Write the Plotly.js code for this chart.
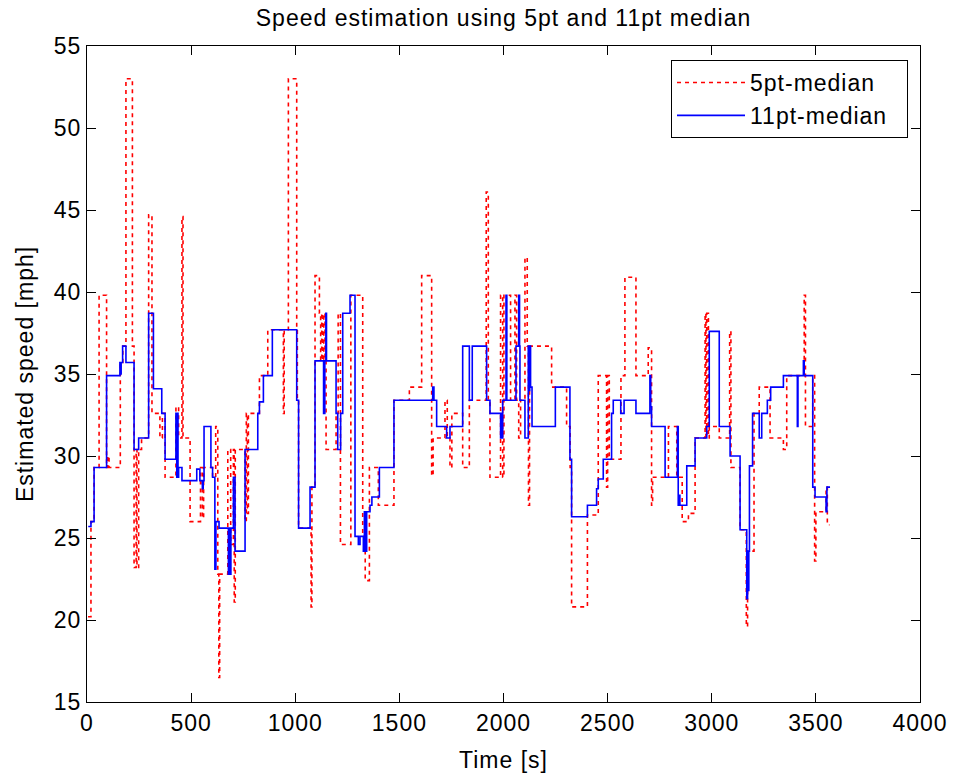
<!DOCTYPE html>
<html>
<head>
<meta charset="utf-8">
<script src="https://cdn.plot.ly/plotly-3.0.1.min.js"></script>
<style>
  html, body { margin: 0; padding: 0; background: #ffffff; }
  #chart { width: 954px; height: 780px; }
  text { letter-spacing: 1px; }
</style>
</head>
<body>
<div id="chart"></div>
<script>
// ---- Data ----
const chartTitle = "Speed estimation using 5pt and 11pt median";
const xTitle = "Time [s]";
const yTitle = "Estimated speed [mph]";
const seriesNames = ["5pt-median", "11pt-median"];

const xTicks = [0, 500, 1000, 1500, 2000, 2500, 3000, 3500, 4000];
const yTicks = [15, 20, 25, 30, 35, 40, 45, 50, 55];

// 5pt-median: step start times [s] and speeds [mph]
const t5 = [5, 19, 34, 58, 94, 100, 106, 160, 172, 187, 218, 226, 236, 240, 248, 262, 296, 312, 350, 362,
  375, 427, 440, 456, 461, 495, 545, 554, 560, 603, 618, 628, 633, 637, 676, 690, 703, 707, 712, 759,
  765, 770, 775, 828, 868, 943, 947, 967, 1007, 1010, 1016, 1076, 1080, 1095, 1116, 1122, 1127, 1132, 1137, 1143,
  1148, 1196, 1206, 1217, 1267, 1324, 1336, 1356, 1399, 1474, 1548, 1607, 1655, 1662, 1719, 1730, 1743, 1752, 1804, 1836,
  1917, 1927, 1935, 1986, 1996, 2002, 2034, 2055, 2063, 2073, 2082, 2103, 2114, 2120, 2125, 2231, 2303, 2320, 2327, 2403,
  2455, 2495, 2500, 2508, 2564, 2583, 2636, 2695, 2711, 2716, 2792, 2832, 2858, 2888, 2920, 2968, 2972, 2976, 2984, 2988,
  3036, 3086, 3092, 3136, 3166, 3172, 3203, 3228, 3280, 3344, 3360, 3444, 3450, 3485, 3494, 3500, 3549, 3555, 3565];
const v5 = [20.2, 26.0, 29.3, 39.8, 29.3, 30.0, 29.3, 35.7, 36.7, 53.0, 36.7, 23.2, 30.4, 23.2, 30.4, 31.1, 44.7, 32.6, 31.1, 32.6,
  28.7, 33.0, 31.1, 44.6, 31.1, 26.0, 29.3, 26.2, 29.3, 28.7, 31.8, 22.8, 16.5, 22.8, 30.4, 24.6, 30.4, 21.1, 30.4, 26.0,
  32.6, 26.5, 32.6, 34.9, 37.7, 32.6, 37.7, 53.0, 37.7, 33.4, 25.6, 20.8, 28.1, 41.0, 38.7, 35.8, 38.7, 35.8, 38.7, 35.8,
  30.4, 32.6, 38.7, 24.6, 39.8, 25.1, 22.4, 29.3, 27.0, 33.4, 34.2, 41.0, 28.8, 31.1, 33.4, 31.1, 29.3, 32.6, 29.3, 33.4,
  46.1, 33.4, 28.7, 39.8, 28.7, 39.8, 33.4, 39.8, 33.4, 31.1, 33.4, 42.1, 36.7, 27.0, 36.7, 34.2, 31.8, 29.3, 20.8, 26.4,
  34.9, 28.1, 34.9, 29.8, 34.9, 40.9, 34.9, 36.6, 27.0, 28.7, 31.8, 28.7, 26.0, 26.5, 31.1, 38.7, 31.1, 38.7, 31.1, 31.8,
  31.1, 37.6, 29.3, 25.5, 19.6, 24.2, 32.6, 34.2, 31.1, 30.4, 34.9, 39.8, 31.8, 34.9, 23.6, 26.6, 28.1, 25.8, 25.8];

// 11pt-median: step start times [s] and speeds [mph]
const t11 = [6, 19, 34, 94, 158, 161, 164, 171, 187, 226, 248, 296, 319, 359, 375, 427, 431, 434, 437, 440,
  456, 527, 542, 554, 558, 562, 595, 603, 614, 619, 634, 679, 683, 687, 691, 703, 711, 759, 820, 828,
  847, 890, 1007, 1016, 1071, 1095, 1136, 1142, 1147, 1150, 1196, 1204, 1218, 1228, 1263, 1287, 1303, 1311, 1327, 1332,
  1336, 1343, 1359, 1368, 1404, 1474, 1660, 1666, 1679, 1727, 1743, 1804, 1836, 1850, 1919, 1935, 1986, 1990, 1993, 1996,
  2012, 2016, 2060, 2073, 2077, 2079, 2103, 2119, 2123, 2126, 2130, 2137, 2249, 2319, 2327, 2403, 2447, 2455, 2479, 2519,
  2527, 2563, 2579, 2636, 2703, 2707, 2711, 2776, 2835, 2839, 2843, 2847, 2880, 2920, 2976, 2988, 3036, 3088, 3136, 3168,
  3172, 3175, 3178, 3181, 3196, 3228, 3240, 3267, 3283, 3344, 3411, 3414, 3440, 3444, 3485, 3496, 3549, 3553, 3568];
const v11 = [25.7, 26.0, 29.3, 34.9, 35.7, 35.0, 35.7, 36.7, 35.7, 30.4, 31.1, 38.7, 34.1, 32.6, 29.8, 32.6, 28.7, 32.6, 28.7, 29.3,
  28.5, 29.2, 28.5, 28.0, 28.5, 31.8, 29.3, 28.7, 23.1, 26.0, 25.6, 22.8, 25.6, 22.8, 25.6, 28.7, 24.2, 30.4, 32.6, 33.3,
  34.9, 37.7, 33.4, 25.6, 28.1, 35.8, 32.6, 35.8, 38.7, 35.8, 32.6, 30.4, 32.6, 38.7, 39.8, 25.1, 24.6, 25.1, 24.2, 26.6,
  24.2, 26.6, 27.0, 27.5, 29.3, 33.4, 34.2, 33.4, 31.8, 31.1, 31.8, 36.7, 33.4, 36.7, 33.4, 32.6, 31.1, 32.6, 31.1, 33.4,
  39.8, 33.4, 36.7, 39.8, 36.7, 33.4, 31.1, 36.7, 34.0, 36.7, 34.2, 31.8, 34.2, 29.8, 26.3, 27.0, 28.0, 28.6, 29.8, 32.6,
  33.4, 32.6, 33.4, 32.6, 34.9, 33.0, 31.8, 28.7, 31.8, 27.0, 27.6, 27.0, 29.4, 31.1, 31.8, 37.6, 31.8, 30.0, 25.5, 21.3,
  24.2, 21.8, 24.2, 29.4, 32.6, 31.1, 32.6, 33.4, 34.2, 34.9, 31.8, 34.9, 35.8, 34.9, 28.1, 27.5, 26.6, 28.1, 28.1];

// ---- Chart ----
const FONT = "Liberation Sans, Arial, Helvetica, sans-serif";
const PAD = "\u00a0\u00a0"; // right padding inside the legend frame

const traces = [
  {
    x: t5, y: v5, name: seriesNames[0] + PAD, type: "scatter", mode: "lines",
    line: { shape: "hv", color: "#ff0000", width: 1.6, dash: "4px,4px" }
  },
  {
    x: t11, y: v11, name: seriesNames[1] + PAD, type: "scatter", mode: "lines",
    line: { shape: "hv", color: "#0000ff", width: 1.6 }
  }
];

const axisCommon = {
  showline: true, linecolor: "#000000", linewidth: 1, mirror: "ticks",
  ticks: "inside", ticklen: 9, tickwidth: 1, tickcolor: "#000000",
  showgrid: false, zeroline: false,
  tickfont: { family: FONT, size: 23, color: "#000000" }
};

const layout = {
  width: 954, height: 780,
  margin: { l: 87, r: 34, t: 46, b: 78, pad: 0 },
  paper_bgcolor: "#ffffff", plot_bgcolor: "#ffffff",
  font: { family: FONT, color: "#000000" },
  title: {
    text: chartTitle, font: { family: FONT, size: 23, color: "#000000" },
    x: 0.5, xref: "paper", xanchor: "center",
    y: 1 - 18 / 780, yref: "container", yanchor: "middle"
  },
  xaxis: Object.assign({}, axisCommon, {
    range: [0, 4000], tickmode: "array", tickvals: xTicks, ticktext: xTicks.map(String),
    title: { text: xTitle, font: { family: FONT, size: 23, color: "#000000" }, standoff: 17 }
  }),
  yaxis: Object.assign({}, axisCommon, {
    range: [15, 55], tickmode: "array", tickvals: yTicks, ticktext: yTicks.map(String),
    title: { text: yTitle, font: { family: FONT, size: 23, color: "#000000" }, standoff: 13 }
  }),
  showlegend: true,
  legend: {
    x: (908 - 87) / 833, xanchor: "right", xref: "paper",
    y: (702 - 59) / 657, yanchor: "top", yref: "paper",
    bgcolor: "#ffffff", bordercolor: "#000000", borderwidth: 1,
    font: { family: FONT, size: 23, color: "#000000" },
    itemwidth: 68, tracegroupgap: 0
  }
};

Plotly.newPlot("chart", traces, layout, { staticPlot: true, displayModeBar: false });
</script>
</body>
</html>
